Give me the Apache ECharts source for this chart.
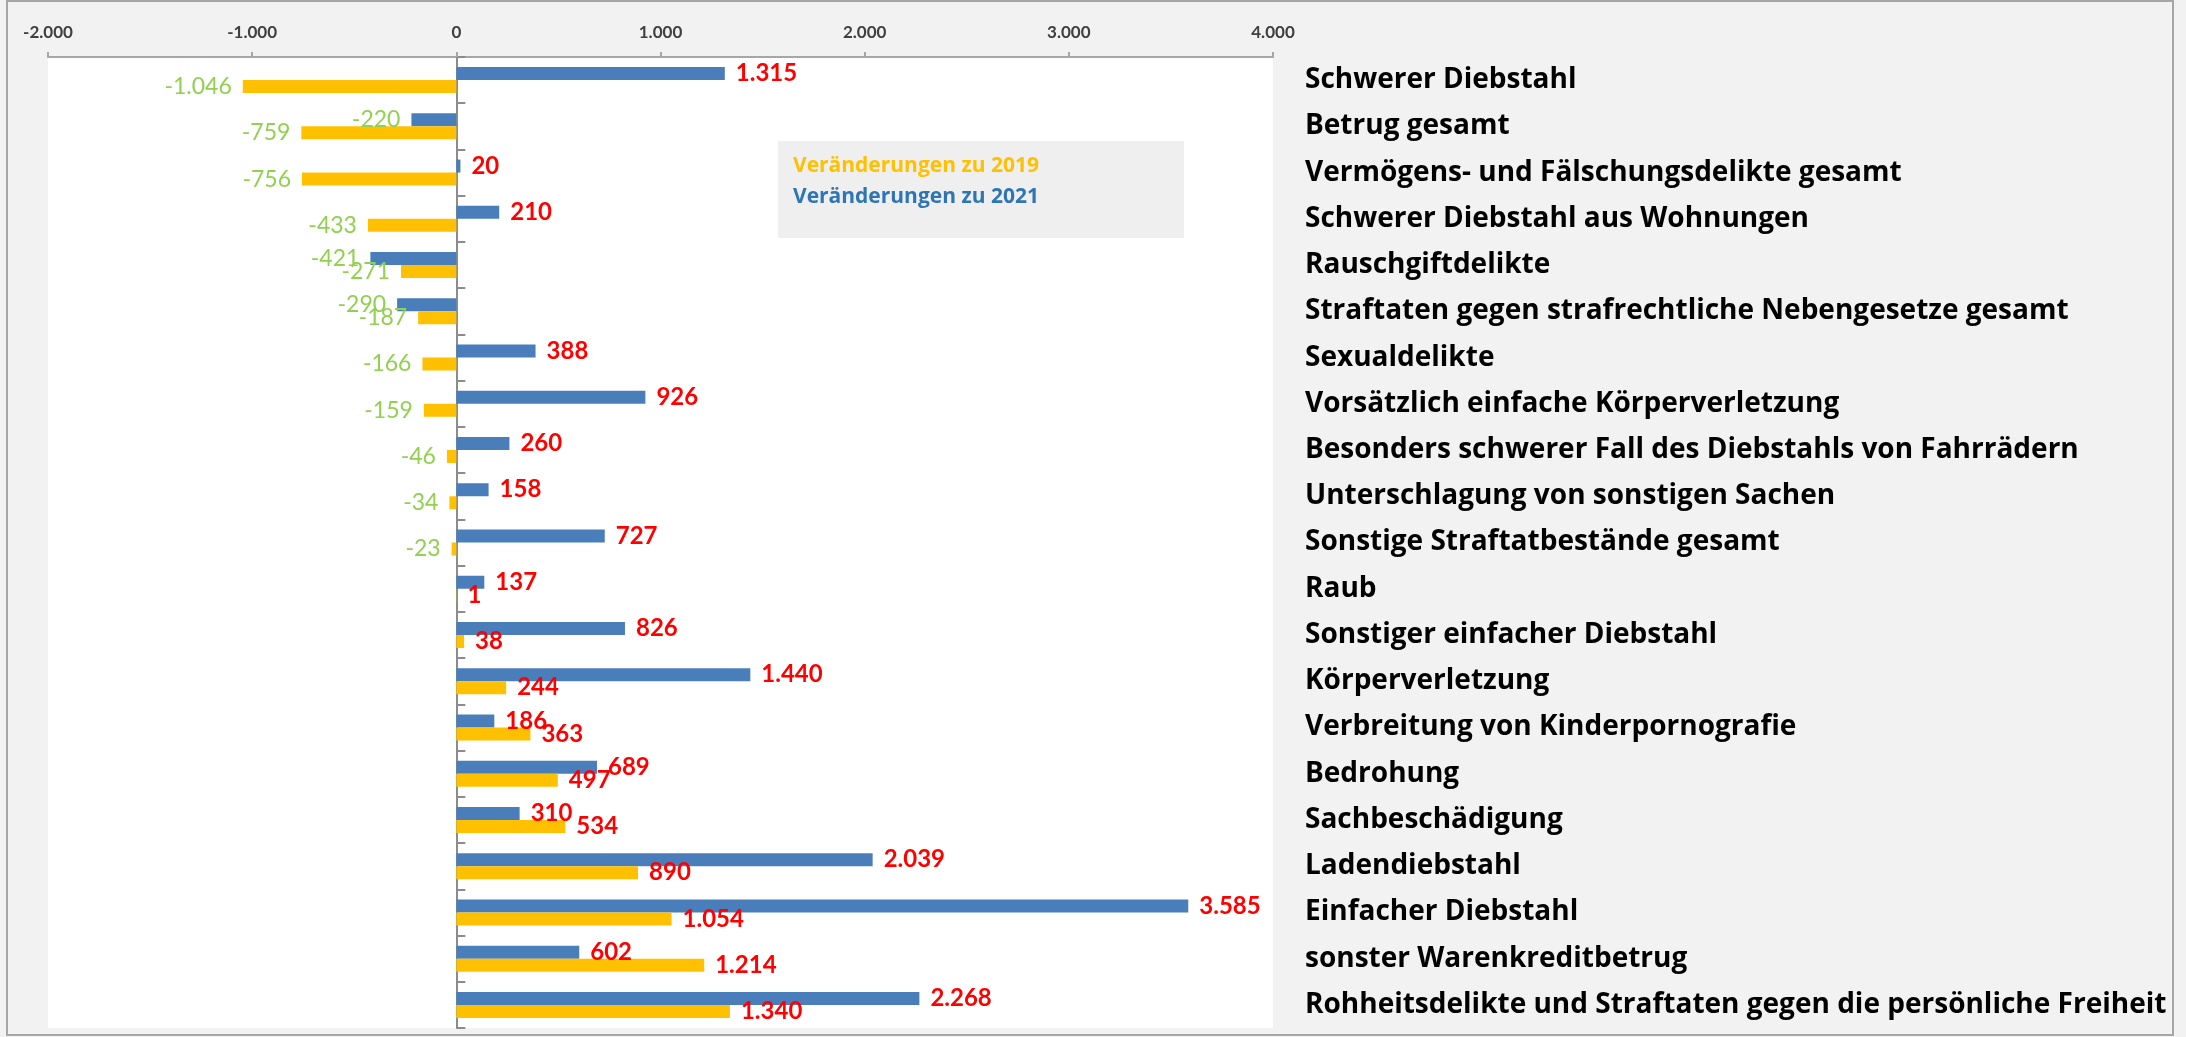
<!DOCTYPE html>
<html>
<head>
<meta charset="utf-8">
<script src="https://cdn.jsdelivr.net/npm/echarts@6/dist/echarts.min.js"></script>
<style>
	html, body { margin: 0; padding: 0; background: #fff; }
	#chart { width: 2186px; height: 1037px; }
</style>
</head>
<body>
<div id="chart"></div>
<script>
var categories = [
	'Schwerer Diebstahl',
	'Betrug gesamt',
	'Vermögens- und Fälschungsdelikte gesamt',
	'Schwerer Diebstahl aus Wohnungen',
	'Rauschgiftdelikte',
	'Straftaten gegen strafrechtliche Nebengesetze gesamt',
	'Sexualdelikte',
	'Vorsätzlich einfache Körperverletzung',
	'Besonders schwerer Fall des Diebstahls von Fahrrädern',
	'Unterschlagung von sonstigen Sachen',
	'Sonstige Straftatbestände gesamt',
	'Raub',
	'Sonstiger einfacher Diebstahl',
	'Körperverletzung',
	'Verbreitung von Kinderpornografie',
	'Bedrohung',
	'Sachbeschädigung',
	'Ladendiebstahl',
	'Einfacher Diebstahl',
	'sonster Warenkreditbetrug',
	'Rohheitsdelikte und Straftaten gegen die persönliche Freiheit'
];
var change2021 = [1315, -220, 20, 210, -421, -290, 388, 926, 260, 158, 727, 137, 826, 1440, 186, 689, 310, 2039, 3585, 602, 2268];
var change2019 = [-1046, -759, -756, -433, -271, -187, -166, -159, -46, -34, -23, 1, 38, 244, 363, 497, 534, 890, 1054, 1214, 1340];
var seriesNames = ['Veränderungen zu 2019', 'Veränderungen zu 2021'];
var xTicks = { min: -2000, max: 4000, step: 1000 };

// Tausenderpunkt wie im Original
function fmt(v) {
	var s = String(Math.abs(v)).replace(/\B(?=(\d{3})+(?!\d))/g, '.');
	return (v < 0 ? '-' : '') + s;
}

// Datenpunkte mit Label links/rechts je nach Vorzeichen
function toItems(arr) {
	return arr.map(function (v) {
		var neg = v < 0;
		return {
			value: v,
			label: {
				position: neg ? 'left' : 'right',
				color: neg ? '#92D050' : '#FF0000',
				fontWeight: neg ? 'normal' : 'bold',
				fontSize: neg ? 23 : 24
			}
		};
	});
}

var labelFont = 'Lato, "Noto Sans", sans-serif';
var catFont = '"Open Sans", Lato, sans-serif';

var dom = document.getElementById('chart');
var myChart = echarts.init(dom);
var option = {
	backgroundColor: '#f2f2f2',
	animation: false,
	textStyle: { fontFamily: labelFont },
	graphic: [{
		type: 'rect',
		shape: { x: 7, y: 1, width: 2166, height: 1034 },
		style: { fill: 'none', stroke: '#a6a6a6', lineWidth: 2 },
		silent: true
	}],
	grid: {
		left: 48,
		right: 913,
		top: 57,
		bottom: 9,
		show: true,
		backgroundColor: '#ffffff',
		borderWidth: 0
	},
	legend: {
		orient: 'vertical',
		left: 778,
		top: 141,
		padding: [12, 145, 28, 10],
		backgroundColor: '#efefef',
		itemWidth: 0,
		itemHeight: 0,
		itemGap: 5,
		icon: 'rect',
		selectedMode: false,
		data: [
			{ name: seriesNames[0], textStyle: { color: '#FFC000' } },
			{ name: seriesNames[1], textStyle: { color: '#2E75B6' } }
		],
		textStyle: {
			fontFamily: catFont,
			fontSize: 21,
			fontWeight: 'bold',
			lineHeight: 26
		}
	},
	xAxis: {
		type: 'value',
		position: 'top',
		min: xTicks.min,
		max: xTicks.max,
		interval: xTicks.step,
		splitLine: { show: false },
		axisLine: {
			show: true,
			onZero: false,
			lineStyle: { color: '#a6a6a6', width: 2 }
		},
		axisTick: {
			show: true,
			length: 5,
			lineStyle: { color: '#a6a6a6', width: 2 }
		},
		axisLabel: {
			margin: 16,
			color: '#404040',
			fontSize: 17,
			fontWeight: 'bold',
			fontFamily: labelFont,
			formatter: fmt
		}
	},
	yAxis: [{
		type: 'category',
		inverse: true,
		data: categories,
		axisLine: {
			show: true,
			onZero: true,
			lineStyle: { color: '#8c8c8c', width: 2 }
		},
		axisTick: {
			show: true,
			inside: true,
			length: 9,
			lineStyle: { color: '#8c8c8c', width: 2 }
		},
		axisLabel: { show: false }
	}, {
		type: 'category',
		inverse: true,
		position: 'right',
		data: categories,
		axisLine: { show: false, onZero: false },
		axisTick: { show: false },
		axisLabel: {
			margin: 32,
			align: 'left',
			color: '#000000',
			fontSize: 28,
			fontWeight: 'bold',
			fontFamily: catFont
		}
	}],
	series: [{
		name: seriesNames[1],
		type: 'bar',
		yAxisIndex: 0,
		barWidth: 13,
		barGap: '0%',
		itemStyle: { color: '#4A7EBB' },
		label: {
			show: true,
			distance: 11,
			fontFamily: labelFont,
			formatter: function (p) { return fmt(p.value); }
		},
		data: toItems(change2021)
	}, {
		name: seriesNames[0],
		type: 'bar',
		yAxisIndex: 0,
		barWidth: 13,
		barGap: '0%',
		itemStyle: { color: '#FFC000' },
		label: {
			show: true,
			distance: 11,
			fontFamily: labelFont,
			formatter: function (p) { return fmt(p.value); }
		},
		data: toItems(change2019)
	}]
};
if (option && typeof option === "object") {
	myChart.setOption(option, true);
}
</script>
</body>
</html>
